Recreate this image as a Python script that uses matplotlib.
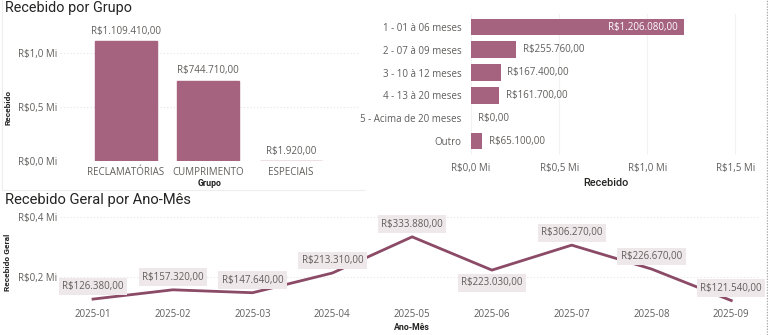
import matplotlib
matplotlib.use("Agg")
import matplotlib.pyplot as plt
from matplotlib.lines import Line2D

# ---------------- data ----------------
grupos = ["RECLAMATÓRIAS", "CUMPRIMENTO", "ESPECIAIS"]
grupo_vals = [1109410.00, 744710.00, 1920.00]

faixas = ["1 - 01 à 06 meses", "2 - 07 à 09 meses", "3 - 10 à 12 meses",
          "4 - 13 à 20 meses", "5 - Acima de 20 meses", "Outro"]
faixa_vals = [1206080.00, 255760.00, 167400.00, 161700.00, 0.00, 65100.00]

meses = ["2025-01", "2025-02", "2025-03", "2025-04", "2025-05",
         "2025-06", "2025-07", "2025-08", "2025-09"]
mes_vals = [126380.00, 157320.00, 147640.00, 213310.00, 333880.00,
            223030.00, 306270.00, 226670.00, 121540.00]

mi_ticks_left = [0, 500000, 1000000]
mi_ticks_right = [0, 500000, 1000000, 1500000]
mi_ticks_line = [200000, 400000]

# ---------------- style ----------------
BAR = "#A5637F"
LINE = "#8B4A66"
TXT = "#605E5C"
DARK = "#252423"
GRID = "#E6E6E6"
BOX = "#EFE8EA"
FONT = ["Open Sans", "DejaVu Sans"]
TFONT = ["Roboto", "DejaVu Sans"]
plt.rcParams["font.family"] = FONT

W, H = 768, 335
fig = plt.figure(figsize=(W / 100, H / 100), dpi=100)
fig.patch.set_facecolor("white")


def rect(l, t, r, b):
    return [l / W, 1 - b / H, (r - l) / W, (b - t) / H]


def brl(v):
    s = f"{v:,.2f}"
    s = s.replace(",", "X").replace(".", ",").replace("X", ".")
    return "R$" + s


def mi(v):
    return "R$" + f"{v / 1e6:.1f}".replace(".", ",") + " Mi"


def clean(ax):
    for s in ax.spines.values():
        s.set_visible(False)
    ax.tick_params(length=0, colors=TXT, labelsize=7)


# border lines (frame of top-left visual and right dotted edge)
fig.add_artist(Line2D([1.5 / W, 1.5 / W], [1 - 0 / H, 1 - 190 / H], color="#EEEEEE", lw=0.8))
fig.add_artist(Line2D([1.5 / W, 365 / W], [1 - 190 / H, 1 - 190 / H], color="#EEEEEE", lw=0.8))
fig.add_artist(Line2D([766.5 / W, 766.5 / W], [0, 1], color="#AAAAAA", lw=1.0, ls=(0, (1, 1))))

# titles
fig.text(5 / W, 1 - 8 / H, "Recebido por Grupo", fontsize=10.4, color=DARK,
         family=TFONT, va="center", ha="left")
fig.text(5 / W, 1 - 200 / H, "Recebido Geral por Ano-Mês", fontsize=10.6, color=DARK,
         family=TFONT, va="center", ha="left")

# ---------------- top-left: column chart ----------------
ax1 = fig.add_axes(rect(60, 30, 360, 161))
clean(ax1)
x1 = list(range(len(grupos)))
ax1.bar(x1, grupo_vals, width=0.75, color=BAR, edgecolor=BAR, linewidth=1.0, zorder=2)
ax1.set_xlim(-0.8, 2.84)
ax1.set_ylim(0, 1.213e6)
ax1.set_yticks(mi_ticks_left)
ax1.set_yticklabels([mi(v) for v in mi_ticks_left])
ax1.yaxis.grid(True, color=GRID, lw=0.8, ls=(0, (1, 2)))
ax1.set_axisbelow(True)
ax1.set_xticks(x1)
ax1.set_xticklabels(grupos)
ax1.tick_params(axis="x", pad=4)
ax1.tick_params(axis="y", pad=30)
for t in ax1.get_yticklabels():
    t.set_ha("left")
for xi, v in zip(x1, grupo_vals):
    ax1.annotate(brl(v), (xi, v), xytext=(0, 3), textcoords="offset points",
                 ha="center", va="bottom", fontsize=7, color=TXT)
fig.text(8 / W, 1 - 107 / H, "Recebido", rotation=90, fontsize=6, color=DARK,
         family=TFONT, va="center", ha="center", fontweight="bold")
fig.text(210 / W, 1 - 183 / H, "Grupo", fontsize=6.3, color=DARK,
         family=TFONT, va="center", ha="center", fontweight="bold")

# ---------------- top-right: horizontal bar chart ----------------
ax2 = fig.add_axes(rect(471, 14, 753, 155))
clean(ax2)
y2 = list(range(len(faixas)))
ax2.barh(y2, faixa_vals, height=0.73, color=BAR, zorder=2)
ax2.set_xlim(0, 1.6e6)
ax2.set_ylim(5.61, -0.57)
ax2.set_yticks(y2)
ax2.set_yticklabels(faixas)
ax2.tick_params(axis="y", pad=7)
ax2.set_xticks(mi_ticks_right)
ax2.set_xticklabels([mi(v) for v in mi_ticks_right])
ax2.tick_params(axis="x", pad=6)
ax2.xaxis.grid(True, color="#F2F2F2", lw=0.8)
ax2.set_axisbelow(True)
vmax = max(faixa_vals)
for yi, v in zip(y2, faixa_vals):
    if v > 0.5 * vmax:
        ax2.annotate(brl(v), (v, yi), xytext=(-4, 0), textcoords="offset points",
                     ha="right", va="center", fontsize=7, color="white")
    else:
        ax2.annotate(brl(v), (v, yi), xytext=(5, 0), textcoords="offset points",
                     ha="left", va="center", fontsize=7, color=TXT)
fig.text(606 / W, 1 - 183 / H, "Recebido", fontsize=7.8, color=DARK,
         family=TFONT, va="center", ha="center", fontweight="medium")

# ---------------- bottom: line chart ----------------
ax3 = fig.add_axes(rect(60, 212, 760, 305))
clean(ax3)
x3 = list(range(len(meses)))
ax3.plot(x3, mes_vals, color=LINE, lw=2, zorder=3, solid_joinstyle="miter")
ax3.set_xlim(-0.414, 8.36)
ax3.set_ylim(0.1067e6, 0.4167e6)
ax3.set_yticks(mi_ticks_line)
ax3.set_yticklabels([mi(v) for v in mi_ticks_line])
ax3.yaxis.grid(True, color=GRID, lw=0.8, ls=(0, (1, 2)))
ax3.set_axisbelow(True)
ax3.tick_params(axis="y", pad=30)
for t in ax3.get_yticklabels():
    t.set_ha("left")
ax3.set_xticks(x3)
ax3.set_xticklabels(meses)
ax3.tick_params(axis="x", pad=3)
below = {5}
for xi, v in zip(x3, mes_vals):
    dy = -9 if xi in below else 9
    ax3.annotate(brl(v), (xi, v), xytext=(0, dy), textcoords="offset points",
                 ha="center", va="center", fontsize=7, color=TXT, zorder=4,
                 bbox=dict(boxstyle="square,pad=0.35", fc=BOX, ec="none"))
fig.text(8 / W, 1 - 262 / H, "Recebido Geral", rotation=90, fontsize=6, color=DARK,
         family=TFONT, va="center", ha="center", fontweight="bold")
fig.text(412 / W, 1 - 328 / H, "Ano-Mês", fontsize=6.3, color=DARK,
         family=TFONT, va="center", ha="center", fontweight="bold")

fig.savefig("out.png", dpi=100, facecolor="white")
